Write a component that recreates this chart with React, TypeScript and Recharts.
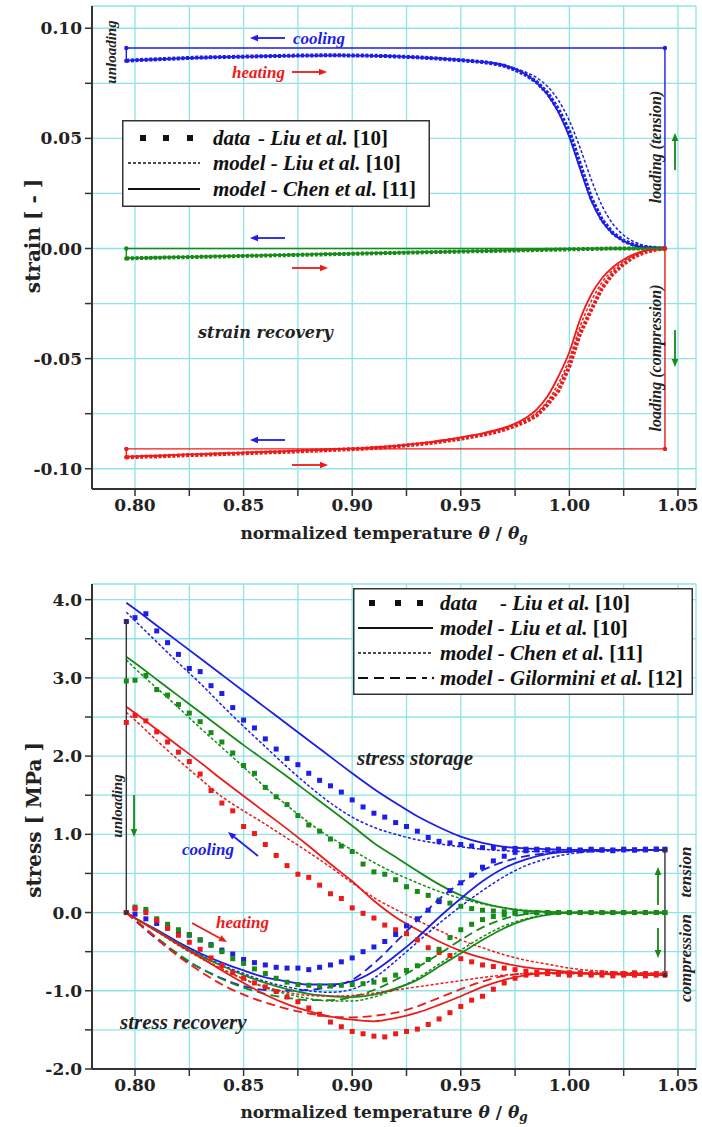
import React from 'react';
import { ComposedChart, Line, XAxis, YAxis, CartesianGrid, Legend } from 'recharts';

const BLUE = '#1e1ee6';
const GREEN = '#178a17';
const RED = '#ee1a1a';
const GRID = '#8ee4e8';
const AXIS = '#333';
const NUM_FONT = 'DejaVu Serif';
const TXT_FONT = 'Liberation Serif';

// temperature grids (theta / theta_g)
const tFine = [0.796, 0.8, 0.805, 0.81, 0.815, 0.82, 0.825, 0.83, 0.835, 0.84, 0.845, 0.85, 0.855, 0.86, 0.865, 0.87, 0.875, 0.88, 0.885, 0.89, 0.895, 0.9, 0.905, 0.91, 0.915, 0.92, 0.925, 0.93, 0.935, 0.94, 0.945, 0.95, 0.955, 0.96, 0.965, 0.97, 0.975, 0.98, 0.985, 0.99, 0.995, 1.0, 1.005, 1.01, 1.015, 1.02, 1.025, 1.03, 1.035, 1.04, 1.044];
const tCoarse = [0.796, 0.8, 0.81, 0.82, 0.83, 0.84, 0.85, 0.86, 0.87, 0.88, 0.89, 0.9, 0.91, 0.92, 0.93, 0.94, 0.95, 0.96, 0.97, 0.98, 0.99, 1.0, 1.01, 1.02, 1.03, 1.04, 1.044];

const tTicks = [0.8, 0.825, 0.85, 0.875, 0.9, 0.925, 0.95, 0.975, 1.0, 1.025, 1.05];
const strainTicks = [-0.1, -0.075, -0.05, -0.025, 0, 0.025, 0.05, 0.075, 0.1];
const stressTicks = [-2, -1.5, -1, -0.5, 0, 0.5, 1, 1.5, 2, 2.5, 3, 3.5, 4];

// ---- strain recovery (top) ----
const blueStrainData = [0.0852, 0.0855, 0.0857, 0.0859, 0.0861, 0.0863, 0.0865, 0.0867, 0.0868, 0.0869, 0.087, 0.0871, 0.0872, 0.0873, 0.0874, 0.0875, 0.0876, 0.0876, 0.0877, 0.0877, 0.0877, 0.0876, 0.0876, 0.0875, 0.0874, 0.0872, 0.087, 0.0868, 0.0865, 0.0862, 0.0858, 0.0855, 0.0851, 0.0847, 0.084, 0.083, 0.0812, 0.0788, 0.0755, 0.0705, 0.063, 0.053, 0.038, 0.023, 0.013, 0.007, 0.0035, 0.0015, 0.0006, 0.0002, 0];
const blueStrainChen = [0.0853, 0.0855, 0.0857, 0.0859, 0.0861, 0.0863, 0.0865, 0.0866, 0.0868, 0.0869, 0.087, 0.0871, 0.0872, 0.0873, 0.0874, 0.0875, 0.0875, 0.0876, 0.0876, 0.0877, 0.0877, 0.0876, 0.0876, 0.0875, 0.0874, 0.0872, 0.087, 0.0868, 0.0865, 0.0862, 0.0859, 0.0855, 0.0851, 0.0846, 0.084, 0.0829, 0.0814, 0.079, 0.0752, 0.0698, 0.0618, 0.0505, 0.036, 0.022, 0.0125, 0.0068, 0.0034, 0.0014, 0.0005, 0.0002, 0];
const blueStrainLiu = [0.0853, 0.0855, 0.0857, 0.0859, 0.0861, 0.0863, 0.0865, 0.0866, 0.0868, 0.0869, 0.087, 0.0871, 0.0872, 0.0873, 0.0874, 0.0875, 0.0875, 0.0876, 0.0876, 0.0876, 0.0876, 0.0876, 0.0875, 0.0875, 0.0874, 0.0873, 0.0871, 0.0869, 0.0867, 0.0864, 0.0861, 0.0858, 0.0854, 0.0849, 0.0843, 0.0833, 0.0818, 0.08, 0.0775, 0.0735, 0.0672, 0.058, 0.0455, 0.0315, 0.0195, 0.0112, 0.006, 0.003, 0.0012, 0.0004, 0];
const greenStrainData = [-0.0045, -0.0044, -0.0043, -0.0042, -0.0041, -0.004, -0.0039, -0.0038, -0.0037, -0.0036, -0.0035, -0.0034, -0.0033, -0.0032, -0.0031, -0.003, -0.0029, -0.0028, -0.0027, -0.0026, -0.0025, -0.0024, -0.0023, -0.0022, -0.0021, -0.002, -0.0019, -0.0018, -0.0017, -0.0016, -0.0015, -0.0014, -0.0013, -0.0012, -0.0011, -0.001, -0.0009, -0.0008, -0.0007, -0.0006, -0.0005, -0.0004, -0.0003, -0.0002, -0.0001, 0, 0, 0, 0, 0, 0];
const greenStrainModel = [-0.0044, -0.0043, -0.0042, -0.0041, -0.004, -0.0039, -0.0038, -0.0037, -0.0036, -0.0035, -0.0034, -0.0033, -0.0032, -0.0031, -0.003, -0.0029, -0.0028, -0.0027, -0.0026, -0.0025, -0.0024, -0.0023, -0.0022, -0.0021, -0.002, -0.0019, -0.0018, -0.0017, -0.0016, -0.0015, -0.0014, -0.0013, -0.0012, -0.0011, -0.001, -0.0009, -0.0008, -0.0007, -0.0006, -0.0005, -0.0004, -0.0003, -0.0002, -0.0001, 0, 0, 0, 0, 0, 0, 0];
const redStrainData = [-0.0948, -0.0947, -0.0945, -0.0944, -0.0942, -0.094, -0.0938, -0.0937, -0.0935, -0.0933, -0.0932, -0.093, -0.0928, -0.0926, -0.0925, -0.0923, -0.0921, -0.0919, -0.0917, -0.0915, -0.0913, -0.0911, -0.0909, -0.0906, -0.0903, -0.0899, -0.0894, -0.0889, -0.0884, -0.0878, -0.0871, -0.0864, -0.0855, -0.0846, -0.0836, -0.0822, -0.0805, -0.0785, -0.0758, -0.0708, -0.0645, -0.0535, -0.0385, -0.028, -0.018, -0.0115, -0.007, -0.0036, -0.0016, -0.0005, 0];
const redStrainChen = [-0.0945, -0.0944, -0.0942, -0.0941, -0.0939, -0.0937, -0.0935, -0.0934, -0.0932, -0.093, -0.0929, -0.0927, -0.0925, -0.0923, -0.0922, -0.092, -0.0918, -0.0916, -0.0914, -0.0912, -0.091, -0.0908, -0.0906, -0.0903, -0.09, -0.0896, -0.0891, -0.0886, -0.088, -0.0873, -0.0866, -0.0858, -0.0849, -0.0839, -0.0827, -0.0813, -0.0795, -0.0768, -0.073, -0.067, -0.058, -0.047, -0.032, -0.021, -0.0135, -0.0085, -0.005, -0.0025, -0.001, -0.0003, 0];
const redStrainLiu = [-0.0946, -0.0945, -0.0943, -0.0942, -0.094, -0.0938, -0.0936, -0.0935, -0.0933, -0.0931, -0.093, -0.0928, -0.0926, -0.0924, -0.0923, -0.0921, -0.0919, -0.0917, -0.0915, -0.0913, -0.0911, -0.0909, -0.0907, -0.0904, -0.0901, -0.0897, -0.0892, -0.0887, -0.0882, -0.0876, -0.0869, -0.0861, -0.0852, -0.0842, -0.0831, -0.0817, -0.08, -0.0777, -0.0745, -0.0692, -0.0612, -0.05, -0.0352, -0.024, -0.0155, -0.0098, -0.0058, -0.003, -0.0012, -0.0004, 0];

// loading / cooling / unloading paths
const blueLoopT = [1.044, 1.044, 0.796, 0.796];
const blueLoopS = [0, 0.091, 0.091, 0.0852];
const greenLoopT = [1.044, 0.796, 0.796];
const greenLoopS = [0, 0, -0.0045];
const redLoopT = [1.044, 1.044, 0.796, 0.796];
const redLoopS = [0, -0.091, -0.091, -0.0948];

// ---- stress (bottom) : cooling branch ----
const blueCoolData = [3.72, 3.77, 3.82, 3.6, 3.45, 3.3, 3.12, 3.08, 2.9, 2.8, 2.62, 2.46, 2.36, 2.22, 2.09, 1.97, 1.89, 1.78, 1.69, 1.62, 1.54, 1.44, 1.35, 1.27, 1.22, 1.15, 1.1, 1.04, 0.96, 0.91, 0.89, 0.87, 0.85, 0.83, 0.83, 0.82, 0.82, 0.81, 0.81, 0.8, 0.8, 0.8, 0.79, 0.8, 0.8, 0.79, 0.8, 0.8, 0.81, 0.81, 0.81];
const greenCoolData = [2.96, 2.97, 3.03, 2.85, 2.78, 2.66, 2.55, 2.44, 2.3, 2.18, 2.04, 1.88, 1.78, 1.6, 1.48, 1.38, 1.24, 1.12, 1.04, 0.94, 0.85, 0.78, 0.62, 0.52, 0.49, 0.42, 0.33, 0.27, 0.22, 0.16, 0.12, 0.08, 0.05, 0.03, 0.02, 0.01, 0, 0, 0, 0, 0, 0, 0, 0, 0, 0, 0, 0, 0, 0, 0];
const redCoolData = [2.43, 2.52, 2.45, 2.31, 2.18, 2.05, 1.93, 1.77, 1.56, 1.4, 1.3, 1.1, 1.01, 0.87, 0.73, 0.6, 0.49, 0.45, 0.35, 0.24, 0.18, 0.06, -0.01, -0.07, -0.16, -0.22, -0.27, -0.35, -0.45, -0.51, -0.55, -0.59, -0.63, -0.67, -0.69, -0.71, -0.73, -0.75, -0.76, -0.76, -0.77, -0.77, -0.77, -0.78, -0.77, -0.78, -0.78, -0.77, -0.78, -0.78, -0.78];
const blueCoolLiu = [3.96, 3.88, 3.67, 3.46, 3.25, 3.04, 2.83, 2.62, 2.41, 2.2, 1.99, 1.78, 1.58, 1.4, 1.23, 1.09, 0.97, 0.89, 0.84, 0.82, 0.81, 0.8, 0.8, 0.8, 0.8, 0.8, 0.8];
const blueCoolChen = [3.84, 3.73, 3.46, 3.19, 2.93, 2.65, 2.38, 2.12, 1.86, 1.62, 1.4, 1.22, 1.09, 1.0, 0.93, 0.88, 0.84, 0.81, 0.79, 0.78, 0.78, 0.78, 0.78, 0.79, 0.79, 0.8, 0.8];
const greenCoolLiu = [3.27, 3.19, 2.98, 2.77, 2.56, 2.35, 2.14, 1.94, 1.74, 1.53, 1.32, 1.11, 0.89, 0.71, 0.53, 0.36, 0.22, 0.12, 0.06, 0.02, 0.01, 0, 0, 0, 0, 0, 0];
const greenCoolChen = [3.23, 3.12, 2.87, 2.62, 2.36, 2.11, 1.86, 1.6, 1.37, 1.15, 0.96, 0.8, 0.64, 0.5, 0.38, 0.27, 0.18, 0.11, 0.06, 0.03, 0.01, 0, 0, 0, 0, 0, 0];
const redCoolLiu = [2.63, 2.55, 2.34, 2.13, 1.92, 1.7, 1.49, 1.28, 1.07, 0.85, 0.62, 0.4, 0.15, -0.06, -0.22, -0.37, -0.49, -0.58, -0.65, -0.7, -0.73, -0.76, -0.78, -0.79, -0.8, -0.8, -0.8];
const redCoolChen = [2.56, 2.46, 2.2, 1.95, 1.71, 1.48, 1.3, 1.13, 0.95, 0.77, 0.58, 0.38, 0.19, 0.04, -0.1, -0.23, -0.35, -0.45, -0.54, -0.61, -0.66, -0.71, -0.74, -0.76, -0.77, -0.78, -0.78];

// ---- stress (bottom) : heating branch ----
const blueHeatData = [0, -0.02, -0.08, -0.14, -0.2, -0.24, -0.29, -0.35, -0.41, -0.48, -0.53, -0.6, -0.64, -0.67, -0.7, -0.71, -0.71, -0.73, -0.7, -0.67, -0.63, -0.58, -0.5, -0.44, -0.37, -0.28, -0.17, -0.08, 0.03, 0.14, 0.28, 0.38, 0.48, 0.58, 0.66, 0.72, 0.77, 0.79, 0.8, 0.8, 0.81, 0.8, 0.8, 0.81, 0.8, 0.8, 0.81, 0.8, 0.8, 0.81, 0.8];
const greenHeatData = [0, 0.07, 0.04, -0.08, -0.15, -0.22, -0.28, -0.35, -0.42, -0.5, -0.59, -0.65, -0.72, -0.78, -0.84, -0.89, -0.92, -0.93, -0.94, -0.94, -0.93, -0.92, -0.91, -0.89, -0.86, -0.8, -0.74, -0.68, -0.6, -0.47, -0.32, -0.22, -0.15, -0.09, -0.05, -0.03, -0.01, 0, 0, 0, 0, 0, 0, 0, 0, 0, 0, 0, 0, 0, 0];
const redHeatData = [0, 0.05, 0, -0.1, -0.2, -0.29, -0.38, -0.47, -0.58, -0.68, -0.77, -0.84, -0.9, -0.95, -1.01, -1.08, -1.14, -1.22, -1.3, -1.4, -1.46, -1.52, -1.55, -1.58, -1.59, -1.55, -1.52, -1.49, -1.43, -1.36, -1.28, -1.2, -1.12, -1.07, -0.98, -0.9, -0.84, -0.8, -0.79, -0.78, -0.79, -0.8, -0.79, -0.8, -0.8, -0.81, -0.8, -0.8, -0.81, -0.8, -0.8];
const blueHeatLiu = [0, -0.07, -0.22, -0.38, -0.52, -0.64, -0.74, -0.83, -0.88, -0.92, -0.92, -0.88, -0.75, -0.55, -0.32, -0.06, 0.18, 0.4, 0.57, 0.68, 0.75, 0.78, 0.79, 0.8, 0.8, 0.8, 0.8];
const blueHeatChen = [0, -0.07, -0.23, -0.39, -0.54, -0.67, -0.78, -0.88, -0.95, -1.0, -1.02, -0.98, -0.84, -0.62, -0.38, -0.14, 0.08, 0.28, 0.46, 0.6, 0.69, 0.75, 0.78, 0.79, 0.8, 0.8, 0.8];
const blueHeatGil = [0, -0.1, -0.34, -0.55, -0.71, -0.84, -0.94, -0.99, -1.0, -0.99, -0.95, -0.86, -0.65, -0.38, -0.1, 0.17, 0.38, 0.54, 0.65, 0.72, 0.76, 0.78, 0.79, 0.8, 0.8, 0.8, 0.8];
const greenHeatLiu = [0, -0.07, -0.23, -0.4, -0.55, -0.68, -0.8, -0.9, -0.98, -1.04, -1.07, -1.08, -1.05, -0.97, -0.86, -0.69, -0.52, -0.35, -0.2, -0.09, -0.03, 0, 0, 0, 0, 0, 0];
const greenHeatChen = [0, -0.07, -0.24, -0.42, -0.58, -0.72, -0.85, -0.96, -1.04, -1.1, -1.13, -1.13, -1.08, -0.98, -0.84, -0.66, -0.48, -0.31, -0.17, -0.08, -0.02, 0, 0, 0, 0, 0, 0];
const greenHeatGil = [0, -0.09, -0.32, -0.53, -0.71, -0.85, -0.96, -1.04, -1.09, -1.12, -1.12, -1.08, -0.99, -0.86, -0.7, -0.53, -0.35, -0.19, -0.08, -0.02, 0, 0, 0, 0, 0, 0, 0];
const redHeatLiu = [0, -0.07, -0.24, -0.41, -0.57, -0.74, -0.9, -1.05, -1.17, -1.26, -1.33, -1.37, -1.39, -1.35, -1.28, -1.18, -1.07, -0.95, -0.86, -0.8, -0.77, -0.77, -0.78, -0.78, -0.78, -0.78, -0.78];
const redHeatChen = [0, -0.07, -0.24, -0.41, -0.57, -0.72, -0.85, -0.95, -1.02, -1.06, -1.07, -1.06, -1.03, -0.99, -0.95, -0.91, -0.87, -0.83, -0.8, -0.78, -0.77, -0.77, -0.77, -0.77, -0.78, -0.78, -0.78];
const redHeatGil = [0, -0.1, -0.33, -0.56, -0.75, -0.92, -1.05, -1.15, -1.23, -1.29, -1.33, -1.34, -1.32, -1.28, -1.2, -1.09, -0.98, -0.88, -0.81, -0.78, -0.78, -0.78, -0.78, -0.78, -0.78, -0.78, -0.78];

const unloadT = [0.796, 0.796];
const unloadS = [3.72, 0];
const loadT = [1.044, 1.044];
const loadS = [0.8, -0.8];

const pts = (xs: number[], ys: number[]) => xs.map((x, i) => ({ x, y: ys[i] }));

type Kind = 'chain' | 'squares' | 'solid' | 'fine' | 'long' | 'path';
type Series = { id: string; data: { x: number; y: number }[]; color: string; kind: Kind };

const strainSeries: Series[] = [
  { id: 'bd', data: pts(tFine, blueStrainData), color: BLUE, kind: 'chain' },
  { id: 'gd', data: pts(tFine, greenStrainData), color: GREEN, kind: 'chain' },
  { id: 'rd', data: pts(tFine, redStrainData), color: RED, kind: 'chain' },
  { id: 'bl', data: pts(tFine, blueStrainLiu), color: BLUE, kind: 'fine' },
  { id: 'bc', data: pts(tFine, blueStrainChen), color: BLUE, kind: 'solid' },
  { id: 'gl', data: pts(tFine, greenStrainModel), color: GREEN, kind: 'fine' },
  { id: 'gc', data: pts(tFine, greenStrainModel), color: GREEN, kind: 'solid' },
  { id: 'rl', data: pts(tFine, redStrainLiu), color: RED, kind: 'fine' },
  { id: 'rc', data: pts(tFine, redStrainChen), color: RED, kind: 'solid' },
  { id: 'bp', data: pts(blueLoopT, blueLoopS), color: BLUE, kind: 'path' },
  { id: 'gp', data: pts(greenLoopT, greenLoopS), color: GREEN, kind: 'path' },
  { id: 'rp', data: pts(redLoopT, redLoopS), color: RED, kind: 'path' },
];

const stressSeries: Series[] = [
  { id: 'bcd', data: pts(tFine, blueCoolData), color: BLUE, kind: 'squares' },
  { id: 'gcd', data: pts(tFine, greenCoolData), color: GREEN, kind: 'squares' },
  { id: 'rcd', data: pts(tFine, redCoolData), color: RED, kind: 'squares' },
  { id: 'bhd', data: pts(tFine, blueHeatData), color: BLUE, kind: 'squares' },
  { id: 'ghd', data: pts(tFine, greenHeatData), color: GREEN, kind: 'squares' },
  { id: 'rhd', data: pts(tFine, redHeatData), color: RED, kind: 'squares' },
  { id: 'bcl', data: pts(tCoarse, blueCoolLiu), color: BLUE, kind: 'solid' },
  { id: 'bcc', data: pts(tCoarse, blueCoolChen), color: BLUE, kind: 'fine' },
  { id: 'gcl', data: pts(tCoarse, greenCoolLiu), color: GREEN, kind: 'solid' },
  { id: 'gcc', data: pts(tCoarse, greenCoolChen), color: GREEN, kind: 'fine' },
  { id: 'rcl', data: pts(tCoarse, redCoolLiu), color: RED, kind: 'solid' },
  { id: 'rcc', data: pts(tCoarse, redCoolChen), color: RED, kind: 'fine' },
  { id: 'bhl', data: pts(tCoarse, blueHeatLiu), color: BLUE, kind: 'solid' },
  { id: 'bhc', data: pts(tCoarse, blueHeatChen), color: BLUE, kind: 'fine' },
  { id: 'bhg', data: pts(tCoarse, blueHeatGil), color: BLUE, kind: 'long' },
  { id: 'ghl', data: pts(tCoarse, greenHeatLiu), color: GREEN, kind: 'solid' },
  { id: 'ghc', data: pts(tCoarse, greenHeatChen), color: GREEN, kind: 'fine' },
  { id: 'ghg', data: pts(tCoarse, greenHeatGil), color: GREEN, kind: 'long' },
  { id: 'rhl', data: pts(tCoarse, redHeatLiu), color: RED, kind: 'solid' },
  { id: 'rhc', data: pts(tCoarse, redHeatChen), color: RED, kind: 'fine' },
  { id: 'rhg', data: pts(tCoarse, redHeatGil), color: RED, kind: 'long' },
  { id: 'unl', data: pts(unloadT, unloadS), color: AXIS, kind: 'path' },
  { id: 'ld', data: pts(loadT, loadS), color: AXIS, kind: 'path' },
];

const squareDot = (color: string, id: string) => (p: any) => {
  if (p.cx == null || p.cy == null) return <g key={`${id}-${p.index}`} />;
  return <rect key={`${id}-${p.index}`} x={p.cx - 2.5} y={p.cy - 2.5} width={5} height={5} fill={color} />;
};

function seriesLine(s: Series) {
  const common = { data: s.data, dataKey: 'y', isAnimationActive: false, activeDot: false as const };
  switch (s.kind) {
    case 'chain':
      return <Line key={s.id} {...common} type="linear" stroke={s.color} strokeWidth={4} strokeDasharray="3 1.6" dot={false} />;
    case 'squares':
      return <Line key={s.id} {...common} type="linear" stroke="none" dot={squareDot(s.color, s.id)} />;
    case 'solid':
      return <Line key={s.id} {...common} type="monotone" stroke={s.color} strokeWidth={1.8} dot={false} />;
    case 'fine':
      return <Line key={s.id} {...common} type="monotone" stroke={s.color} strokeWidth={1.5} strokeDasharray="3 2" dot={false} />;
    case 'long':
      return <Line key={s.id} {...common} type="monotone" stroke={s.color} strokeWidth={1.8} strokeDasharray="9 5" dot={false} />;
    default:
      return <Line key={s.id} {...common} type="linear" stroke={s.color} strokeWidth={1.4} dot={{ r: 2.2, fill: s.color, stroke: s.color, strokeWidth: 0 }} />;
  }
}

const isMultiple = (v: number, step: number) => Math.abs(v / step - Math.round(v / step)) < 1e-6;
const fmtT = (v: number) => (isMultiple(v, 0.05) ? v.toFixed(2) : '');
const fmtStrain = (v: number) => (isMultiple(v, 0.05) ? v.toFixed(2) : '');
const fmtStress = (v: number) => (isMultiple(v, 1) ? v.toFixed(1) : '');

const tickStyle = { fontFamily: NUM_FONT, fontWeight: 700, fontSize: 17, fill: '#222' };
const T_DOMAIN: [number, number] = [0.7802, 1.0583];

function frameAxes(yDomain: [number, number]) {
  return [
    <XAxis key="xt" xAxisId="top" orientation="top" type="number" domain={T_DOMAIN} allowDataOverflow tick={false} tickLine={false} axisLine={{ stroke: '#555', strokeWidth: 1.5 }} height={0} />,
    <YAxis key="yr" yAxisId="right" orientation="right" type="number" domain={yDomain} allowDataOverflow tick={false} tickLine={false} axisLine={{ stroke: '#555', strokeWidth: 1.5 }} width={0} />,
  ];
}

const legendText = { fontFamily: TXT_FONT, fontWeight: 700, fontStyle: 'italic' as const, fontSize: 21, fill: '#111' };

function StrainLegend() {
  const sq = [21, 44, 68];
  return (
    <svg width={308} height={87} style={{ display: 'block' }}>
      <rect x={0.75} y={0.75} width={306.5} height={85.5} fill="#fff" stroke="#333" strokeWidth={1.5} />
      {sq.map((x) => <rect key={x} x={x - 3} y={15} width={6} height={6} fill="#111" />)}
      <line x1={6} y1={43} x2={78} y2={43} stroke="#111" strokeWidth={1.5} strokeDasharray="3 2" />
      <line x1={6} y1={69} x2={78} y2={69} stroke="#111" strokeWidth={1.8} />
      <text x={91} y={18} dominantBaseline="central" {...legendText}>data</text>
      <text x={136} y={18} dominantBaseline="central" {...legendText}>- Liu et al. <tspan fontStyle="normal">[10]</tspan></text>
      <text x={91} y={43} dominantBaseline="central" {...legendText}>model - Liu et al. <tspan fontStyle="normal">[10]</tspan></text>
      <text x={91} y={69} dominantBaseline="central" {...legendText}>model - Chen et al. <tspan fontStyle="normal">[11]</tspan></text>
    </svg>
  );
}

function StressLegend() {
  const sq = [19, 45, 67];
  return (
    <svg width={340} height={107} style={{ display: 'block' }}>
      <rect x={0.75} y={0.75} width={338.5} height={105.5} fill="#fff" stroke="#333" strokeWidth={1.5} />
      {sq.map((x) => <rect key={x} x={x - 3} y={12} width={6} height={6} fill="#111" />)}
      <line x1={5} y1={40} x2={80} y2={40} stroke="#111" strokeWidth={1.8} />
      <line x1={5} y1={65} x2={80} y2={65} stroke="#111" strokeWidth={1.5} strokeDasharray="3 2" />
      <line x1={5} y1={90} x2={74} y2={90} stroke="#111" strokeWidth={1.8} strokeDasharray="10 6" />
      <circle cx={80} cy={90} r={1.2} fill="#111" />
      <text x={87} y={15} dominantBaseline="central" {...legendText}>data</text>
      <text x={147} y={15} dominantBaseline="central" {...legendText}>- Liu et al. <tspan fontStyle="normal">[10]</tspan></text>
      <text x={87} y={40} dominantBaseline="central" {...legendText}>model - Liu et al. <tspan fontStyle="normal">[10]</tspan></text>
      <text x={87} y={65} dominantBaseline="central" {...legendText}>model - Chen et al. <tspan fontStyle="normal">[11]</tspan></text>
      <text x={87} y={90} dominantBaseline="central" {...legendText}>model - Gilormini et al. <tspan fontStyle="normal">[12]</tspan></text>
    </svg>
  );
}

function Arrow({ x1, y1, x2, y2, color }: { x1: number; y1: number; x2: number; y2: number; color: string }) {
  const a = Math.atan2(y2 - y1, x2 - x1);
  const L = 8;
  const W = 3.3;
  const bx = x2 - L * Math.cos(a);
  const by = y2 - L * Math.sin(a);
  const px = -Math.sin(a) * W;
  const py = Math.cos(a) * W;
  return (
    <g>
      <line x1={x1} y1={y1} x2={bx} y2={by} stroke={color} strokeWidth={1.8} />
      <polygon points={`${x2},${y2} ${bx + px},${by + py} ${bx - px},${by - py}`} fill={color} />
    </g>
  );
}

const note = { fontFamily: TXT_FONT, fontWeight: 700, fontStyle: 'italic' as const };

function VText({ x, y, size, children }: { x: number; y: number; size: number; children: React.ReactNode }) {
  return (
    <text x={x} y={y} transform={`rotate(-90 ${x} ${y})`} textAnchor="middle" dominantBaseline="central" {...note} fontSize={size} fill="#222">
      {children}
    </text>
  );
}

function XTitle({ y }: { y: number }) {
  return (
    <text x={384} y={y} textAnchor="middle" dominantBaseline="central" fontFamily={NUM_FONT} fontWeight={700} fontSize={17} fill="#222">
      normalized temperature <tspan fontStyle="italic">θ</tspan> / <tspan fontStyle="italic">θ</tspan>
      <tspan fontStyle="italic" fontSize={12} dy={5}>g</tspan>
    </text>
  );
}

function Overlay() {
  return (
    <svg width={702} height={1127} style={{ position: 'absolute', left: 0, top: 0, pointerEvents: 'none' }}>
      {/* axis titles */}
      <text x={33} y={236} transform="rotate(-90 33 236)" textAnchor="middle" dominantBaseline="central" fontFamily={NUM_FONT} fontWeight={700} fontSize={20} fill="#222">strain  [ - ]</text>
      <text x={34} y={820} transform="rotate(-90 34 820)" textAnchor="middle" dominantBaseline="central" fontFamily={NUM_FONT} fontWeight={700} fontSize={20} fill="#222">stress  [ MPa ]</text>
      <XTitle y={533} />
      <XTitle y={1112} />

      {/* strain panel notes */}
      <VText x={111} y={52} size={15}>unloading</VText>
      <Arrow x1={285} y1={38} x2={250} y2={38} color={BLUE} />
      <text x={293} y={38} dominantBaseline="central" {...note} fontSize={17} fill={BLUE}>cooling</text>
      <text x={232} y={72} dominantBaseline="central" {...note} fontSize={17} fill={RED}>heating</text>
      <Arrow x1={292} y1={72} x2={327} y2={72} color={RED} />
      <Arrow x1={285} y1={238} x2={250} y2={238} color={BLUE} />
      <Arrow x1={292} y1={268} x2={328} y2={268} color={RED} />
      <text x={198} y={332} dominantBaseline="central" fontFamily={NUM_FONT} fontWeight={700} fontStyle="italic" fontSize={16} fill="#222">strain recovery</text>
      <Arrow x1={285} y1={440} x2={250} y2={440} color={BLUE} />
      <Arrow x1={292} y1={465} x2={328} y2={465} color={RED} />
      <VText x={655} y={147} size={16}>loading (tension)</VText>
      <Arrow x1={675} y1={170} x2={675} y2={133} color={GREEN} />
      <VText x={655} y={358} size={16}>loading (compression)</VText>
      <Arrow x1={675} y1={330} x2={675} y2={367} color={GREEN} />

      {/* stress panel notes */}
      <text x={357} y={758} dominantBaseline="central" {...note} fontSize={21} fill="#222">stress storage</text>
      <VText x={117} y={806} size={15}>unloading</VText>
      <Arrow x1={134} y1={795} x2={134} y2={837} color={GREEN} />
      <text x={182} y={849} dominantBaseline="central" {...note} fontSize={17} fill={BLUE}>cooling</text>
      <Arrow x1={258} y1={856} x2={228} y2={832} color={BLUE} />
      <text x={216} y={922} dominantBaseline="central" {...note} fontSize={17} fill={RED}>heating</text>
      <Arrow x1={192} y1={923} x2={227} y2={942} color={RED} />
      <text x={120} y={1022} dominantBaseline="central" {...note} fontSize={21} fill="#222">stress recovery</text>
      <Arrow x1={658} y1={905} x2={658} y2={867} color={GREEN} />
      <Arrow x1={658} y1={928} x2={658} y2={958} color={GREEN} />
      <VText x={685} y={872} size={17}>tension</VText>
      <VText x={685} y={958} size={17}>compression</VText>
    </svg>
  );
}

export default function App() {
  const strainDomain: [number, number] = [-0.1092, 0.1101];
  const stressDomain: [number, number] = [-2, 4.2];
  return (
    <div style={{ position: 'absolute', left: 0, top: 0, width: 702, height: 1127, background: '#fff', overflow: 'hidden', fontFamily: NUM_FONT }}>
      <div style={{ position: 'absolute', left: 0, top: 0 }}>
        <ComposedChart width={702} height={545} margin={{ top: 6, right: 6, bottom: 6, left: 30 }}>
          <CartesianGrid stroke={GRID} strokeWidth={1.3} />
          <XAxis type="number" dataKey="x" domain={T_DOMAIN} allowDataOverflow ticks={tTicks} interval={0} tickFormatter={fmtT} tick={tickStyle} tickSize={7} tickMargin={3} tickLine={{ stroke: AXIS, strokeWidth: 1.5 }} axisLine={{ stroke: AXIS, strokeWidth: 2 }} height={50} />
          <YAxis type="number" domain={strainDomain} allowDataOverflow ticks={strainTicks} interval={0} tickFormatter={fmtStrain} tick={tickStyle} tickSize={7} tickMargin={3} tickLine={{ stroke: AXIS, strokeWidth: 1.5 }} axisLine={{ stroke: AXIS, strokeWidth: 2 }} width={62} />
          {frameAxes(strainDomain)}
          {strainSeries.map(seriesLine)}
          <Legend layout="vertical" align="center" verticalAlign="middle" wrapperStyle={{ left: 122, top: 120, width: 308, height: 87 }} content={() => <StrainLegend />} />
        </ComposedChart>
      </div>
      <div style={{ position: 'absolute', left: 0, top: 545 }}>
        <ComposedChart width={702} height={582} margin={{ top: 39, right: 6, bottom: 8, left: 30 }}>
          <CartesianGrid stroke={GRID} strokeWidth={1.3} />
          <XAxis type="number" dataKey="x" domain={T_DOMAIN} allowDataOverflow ticks={tTicks} interval={0} tickFormatter={fmtT} tick={tickStyle} tickSize={7} tickMargin={3} tickLine={{ stroke: AXIS, strokeWidth: 1.5 }} axisLine={{ stroke: AXIS, strokeWidth: 2 }} height={50} />
          <YAxis type="number" domain={stressDomain} allowDataOverflow ticks={stressTicks} interval={0} tickFormatter={fmtStress} tick={tickStyle} tickSize={7} tickMargin={3} tickLine={{ stroke: AXIS, strokeWidth: 1.5 }} axisLine={{ stroke: AXIS, strokeWidth: 2 }} width={62} />
          {frameAxes(stressDomain)}
          {stressSeries.map(seriesLine)}
          <Legend layout="vertical" align="center" verticalAlign="middle" wrapperStyle={{ left: 353, top: 43, width: 340, height: 107 }} content={() => <StressLegend />} />
        </ComposedChart>
      </div>
      <Overlay />
    </div>
  );
}
